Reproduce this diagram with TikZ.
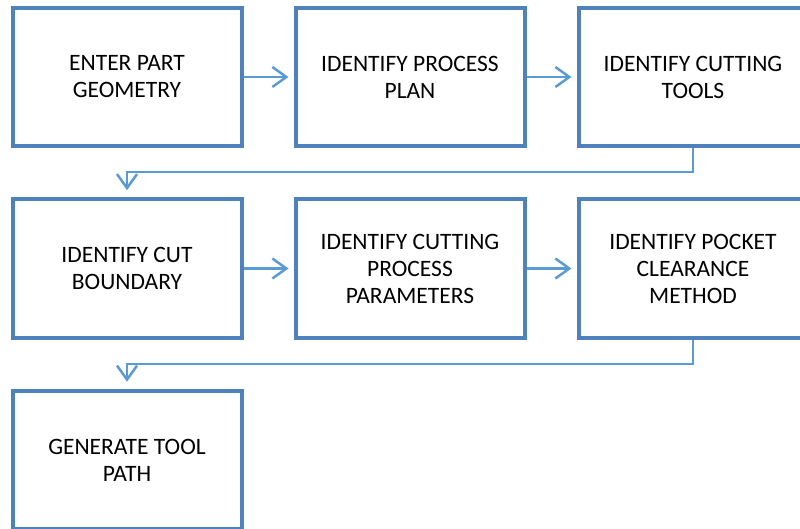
\documentclass[tikz,border=0pt]{standalone}
\usepackage{fontspec}
\setmainfont{Carlito}
\usetikzlibrary{arrows.meta,positioning}
\definecolor{boxblue}{RGB}{79,129,189}
\definecolor{lineblue}{RGB}{91,155,213}

\begin{document}
\begin{tikzpicture}[x=1pt,y=1pt,>={Straight Barb[length=14pt,width=20pt]},
  stepbox/.style={draw=boxblue,line width=4pt,minimum width=229pt,
    minimum height=138.5pt,inner sep=0pt,align=center,
    font=\fontsize{23.5}{27}\selectfont},
  conn/.style={->,draw=lineblue,line width=2.5pt}]
  \useasboundingbox (0,0) rectangle (800,528);
  % first row
  \node[stepbox] (enter) at (127,451) {ENTER PART\\GEOMETRY};
  \node[stepbox] (plan) at (410,451) {IDENTIFY PROCESS\\PLAN};
  \node[stepbox] (tools) at (693,451) {IDENTIFY CUTTING\\TOOLS};
  % second row
  \node[stepbox] (bound) at (127,259.5) {IDENTIFY CUT\\BOUNDARY};
  \node[stepbox] (params) at (410,259.5) {IDENTIFY CUTTING\\PROCESS\\PARAMETERS};
  \node[stepbox] (pocket) at (693,259.5) {IDENTIFY POCKET\\CLEARANCE\\METHOD};
  % last row
  \node[stepbox] (path) at (127,68) {GENERATE TOOL\\PATH};
  \draw[conn,shorten >=5pt] (enter.east) -- (plan.west);
  \draw[conn,shorten >=5pt] (plan.east) -- (tools.west);
  \draw[conn,shorten >=5pt] (bound.east) -- (params.west);
  \draw[conn,shorten >=5pt] (params.east) -- (pocket.west);
  \draw[conn,shorten >=7pt] (tools.south) -- ++(0,-24) -| (bound.north);
  \draw[conn,shorten >=7pt] (pocket.south) -- ++(0,-24) -| (path.north);
\end{tikzpicture}
\end{document}
